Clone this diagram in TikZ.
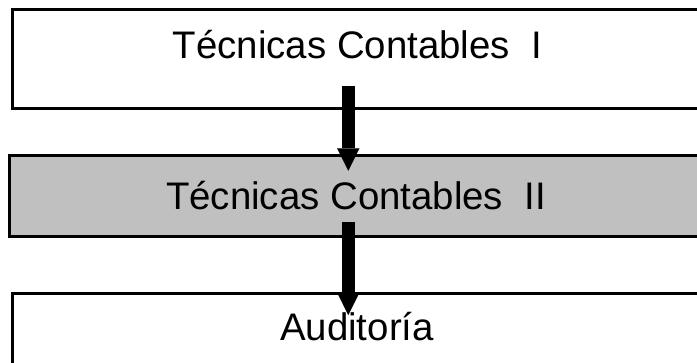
\documentclass[tikz,border=0pt]{standalone}
\usepackage{fontspec}
\setmainfont{Liberation Sans}
\usetikzlibrary{arrows.meta}
\definecolor{boxgray}{HTML}{C0C0C0}
\begin{document}
\begin{tikzpicture}[x=1pt,y=-1pt,
  box/.style={draw=black,line width=3pt,anchor=north west,inner sep=0pt},
  lbl/.style={anchor=base,inner sep=0pt,font=\fontsize{38.4}{42}\selectfont},
  flow/.style={line width=13.3pt,-{Triangle[width=22.3pt,length=22.4pt,line width=0.1pt]}}]
\useasboundingbox (0,0) rectangle (697,362);
\clip (0,0) rectangle (697,362);
\node[box,minimum width=700pt,minimum height=98.7pt] (b1) at (11.3,8) {};
\node[box,fill=boxgray,minimum width=700pt,minimum height=81.3pt] (b2) at (8.3,153.5) {};
\node[box,minimum width=700pt,minimum height=100pt] (b3) at (11.3,292) {};
\node[lbl] (t1) at (357.5,58) {Técnicas Contables\ \ I};
\node[lbl] (t2) at (356,209.5) {Técnicas Contables\ \ II};
\node[lbl] (t3) at (357,340) {Auditoría};
\coordinate (a1s) at (348.3,86);
\coordinate (a1e) at (348.3,170.7);
\coordinate (a2s) at (348.3,221.7);
\coordinate (a2e) at (348.3,315);
\draw[flow] (a1s) -- (a1e);
\draw[flow] (a2s) -- (a2e);
\end{tikzpicture}
\end{document}
